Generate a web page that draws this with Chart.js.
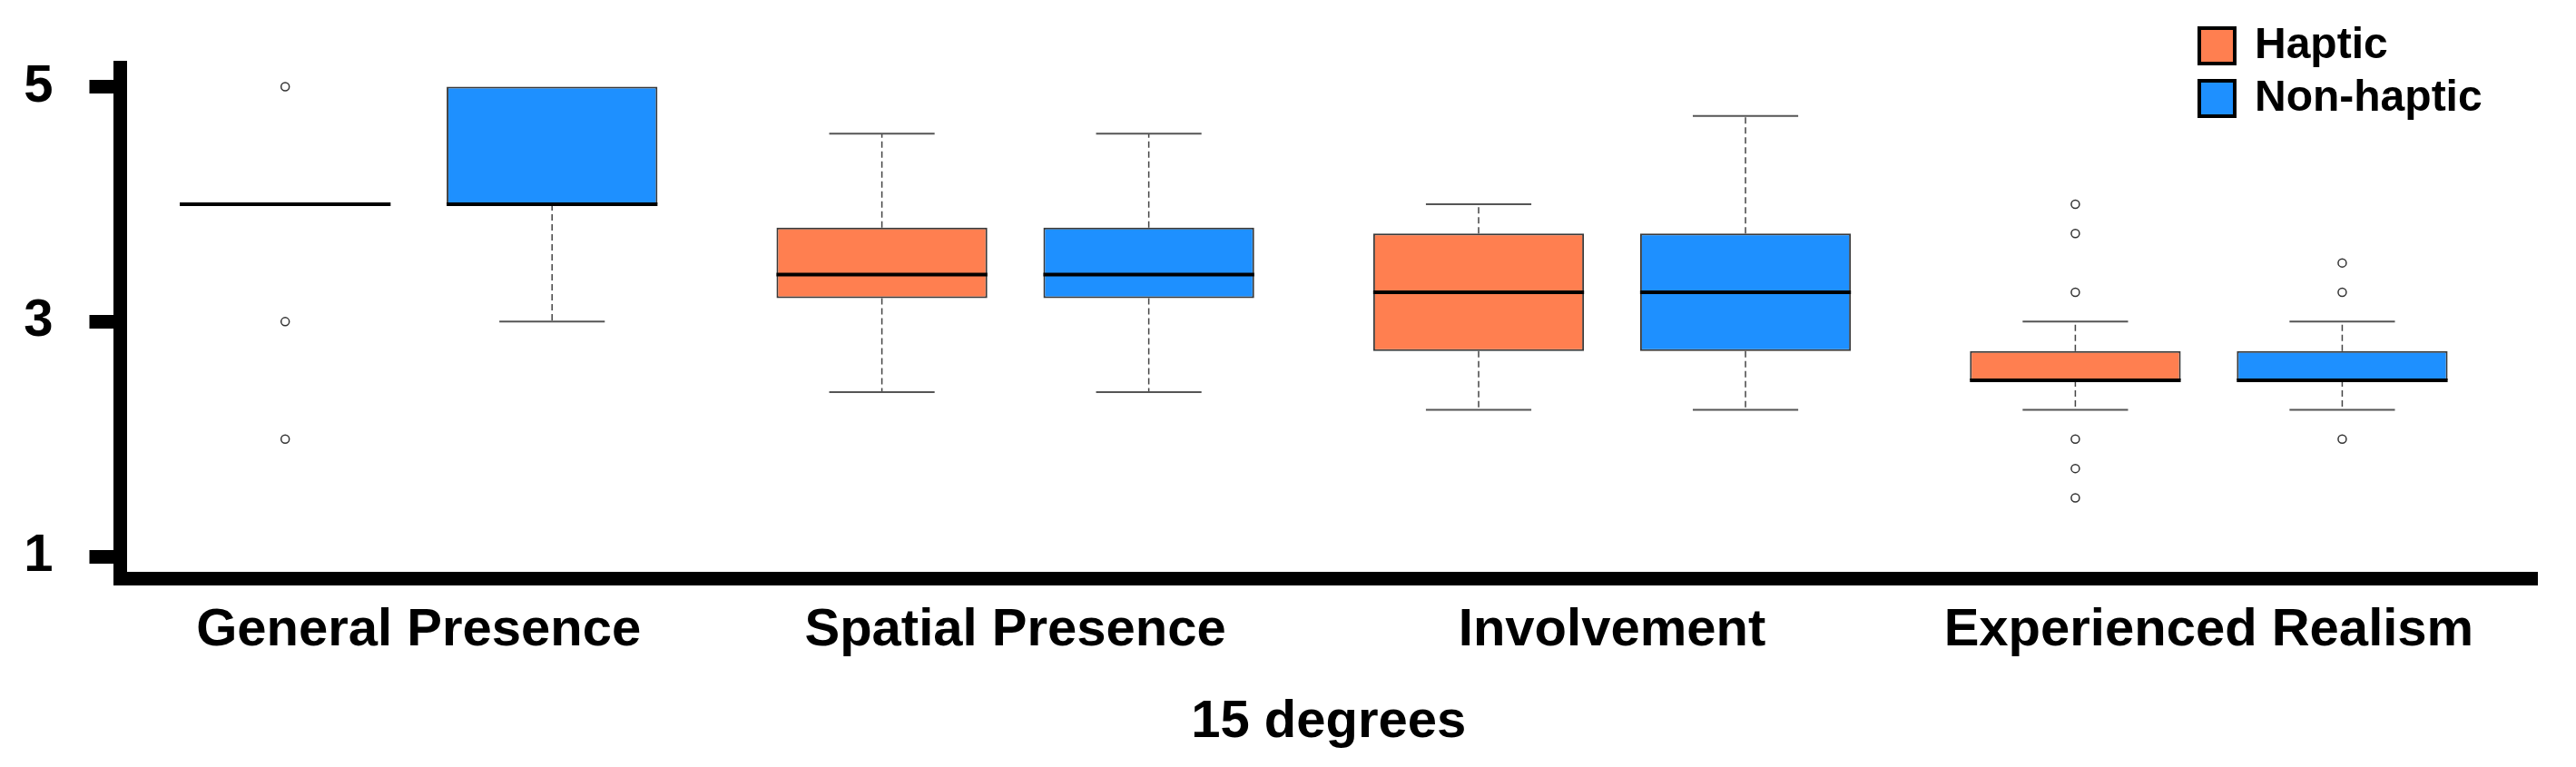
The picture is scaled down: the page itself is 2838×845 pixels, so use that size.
<!DOCTYPE html>
<html>
<head>
<meta charset="utf-8">
<script src="https://cdn.jsdelivr.net/npm/chart.js@4.4.1/dist/chart.umd.min.js"></script>
<style>
html,body{margin:0;padding:0;background:#ffffff;}
canvas{display:block;}
</style>
</head>
<body>
<canvas id="c" width="2838" height="845"></canvas>
<script>
// ---------- data ----------
const categories = ['General Presence', 'Spatial Presence', 'Involvement', 'Experienced Realism'];
const seriesNames = ['Haptic', 'Non-haptic'];
const xTitle = '15 degrees';
const yTicks = [1, 3, 5];

const hapticMin      = [4.0, 2.4, 2.25, 2.25];
const hapticQ1       = [4.0, 3.2, 2.75, 2.5];
const hapticMedian   = [4.0, 3.4, 3.25, 2.5];
const hapticQ3       = [4.0, 3.8, 3.75, 2.75];
const hapticMax      = [4.0, 4.6, 4.0, 3.0];
const hapticOutliers = [[5, 3, 2], [], [], [4.0, 3.75, 3.25, 2.0, 1.75, 1.5]];

const nonHapticMin      = [3.0, 2.4, 2.25, 2.25];
const nonHapticQ1       = [4.0, 3.2, 2.75, 2.5];
const nonHapticMedian   = [4.0, 3.4, 3.25, 2.5];
const nonHapticQ3       = [5.0, 3.8, 3.75, 2.75];
const nonHapticMax      = [5.0, 4.6, 4.75, 3.0];
const nonHapticOutliers = [[], [], [], [3.5, 3.25, 2.0]];

// ---------- styles ----------
const FONT = "'Liberation Sans', Arial, Helvetica, sans-serif";
const colors = ['#FF7F50', '#1E90FF'];

function makeStats(mn, q1, med, q3, mx, out) {
  return categories.map((c, i) => ({min: mn[i], q1: q1[i], median: med[i], q3: q3[i], max: mx[i], outliers: out[i]}));
}
const stats = [
  makeStats(hapticMin, hapticQ1, hapticMedian, hapticQ3, hapticMax, hapticOutliers),
  makeStats(nonHapticMin, nonHapticQ1, nonHapticMedian, nonHapticQ3, nonHapticMax, nonHapticOutliers)
];

const boxPlugin = {
  id: 'boxWhiskers',
  afterDatasetsDraw(chart) {
    const ctx = chart.ctx;
    const ys = chart.scales.y;
    chart.data.datasets.forEach((ds, d) => {
      const meta = chart.getDatasetMeta(d);
      meta.data.forEach((el, i) => {
        const s = stats[d][i];
        const x = el.x, w = el.width;
        ctx.save();
        const segs = [[s.q3, s.max], [s.q1, s.min]];
        segs.forEach(([from, to]) => {
          if (from === to) return;
          const y1 = ys.getPixelForValue(from), y2 = ys.getPixelForValue(to);
          ctx.beginPath();
          ctx.setLineDash([7, 4]);
          ctx.strokeStyle = '#444';
          ctx.lineWidth = 1.5;
          ctx.moveTo(x, y1); ctx.lineTo(x, y2);
          ctx.stroke();
          ctx.setLineDash([]);
          ctx.beginPath();
          ctx.strokeStyle = '#555';
          ctx.lineWidth = 2;
          ctx.moveTo(x - w / 4, y2); ctx.lineTo(x + w / 4, y2);
          ctx.stroke();
        });
        const ym = ys.getPixelForValue(s.median);
        ctx.beginPath();
        ctx.strokeStyle = '#000';
        ctx.lineWidth = 4;
        ctx.moveTo(x - w / 2, ym); ctx.lineTo(x + w / 2, ym);
        ctx.stroke();
        s.outliers.forEach(v => {
          const yo = ys.getPixelForValue(v);
          ctx.beginPath();
          ctx.arc(x, yo, 4.5, 0, Math.PI * 2);
          ctx.fillStyle = '#fff';
          ctx.fill();
          ctx.strokeStyle = '#333';
          ctx.lineWidth = 1.5;
          ctx.stroke();
        });
        ctx.restore();
      });
    });
  }
};

const legendPlugin = {
  id: 'boxLegend',
  afterDraw(chart, args, opts) {
    const ctx = chart.ctx;
    ctx.save();
    chart.data.datasets.forEach((ds, d) => {
      const top = opts.top + d * opts.rowGap;
      const size = opts.box;
      ctx.fillStyle = ds.backgroundColor;
      ctx.fillRect(opts.left, top, size, size);
      ctx.lineWidth = opts.border;
      ctx.strokeStyle = '#000';
      ctx.strokeRect(opts.left + opts.border / 2, top + opts.border / 2, size - opts.border, size - opts.border);
      ctx.fillStyle = '#000';
      ctx.font = 'bold ' + opts.fontSize + 'px ' + FONT;
      ctx.textBaseline = 'middle';
      ctx.textAlign = 'left';
      ctx.fillText(ds.label, opts.left + size + opts.textGap, top + size / 2);
    });
    ctx.restore();
  }
};

const xPositions = categories.map((c, i) => i);

new Chart(document.getElementById('c'), {
  type: 'bar',
  data: {
    labels: xPositions,
    datasets: [
      {
        label: seriesNames[0],
        data: xPositions.map(i => ({x: i, y: [hapticQ1[i], hapticQ3[i]]})),
        backgroundColor: colors[0],
        borderColor: '#3a3a3a',
        borderWidth: 2,
        borderSkipped: false
      },
      {
        label: seriesNames[1],
        data: xPositions.map(i => ({x: i, y: [nonHapticQ1[i], nonHapticQ3[i]]})),
        backgroundColor: colors[1],
        borderColor: '#3a3a3a',
        borderWidth: 2,
        borderSkipped: false
      }
    ]
  },
  options: {
    responsive: false,
    devicePixelRatio: 1,
    animation: false,
    categoryPercentage: 0.8945,
    barPercentage: 0.79,
    layout: {padding: {left: 0, right: 43, top: 68, bottom: 4}},
    plugins: {
      legend: {display: false},
      tooltip: {enabled: false},
      boxLegend: {left: 2421, top: 29, rowGap: 58, box: 43, border: 4, fontSize: 48, textGap: 20}
    },
    scales: {
      x: {
        type: 'linear',
        offset: false,
        min: -0.5,
        max: 3.55,
        afterBuildTicks(scale) { scale.ticks = xPositions.map(v => ({value: v})); },
        ticks: {
          autoSkip: false,
          maxRotation: 0,
          padding: 22,
          color: '#000',
          font: {family: FONT, size: 58, weight: 'bold'},
          callback: (v) => categories[v]
        },
        grid: {display: true, offset: false, drawOnChartArea: false, drawTicks: false},
        border: {display: true, width: 15, color: '#000'},
        title: {
          display: true,
          text: xTitle,
          color: '#000',
          font: {family: FONT, size: 58, weight: 'bold'},
          padding: {top: 10, bottom: 10}
        }
      },
      y: {
        min: 0.81,
        max: 5.16,
        afterBuildTicks(scale) { scale.ticks = yTicks.map(v => ({value: v})); },
        afterFit(scale) { scale.width = 132.5; },
        ticks: {
          padding: 40,
          color: '#000',
          font: {family: FONT, size: 58, weight: 'bold'}
        },
        grid: {display: true, drawOnChartArea: false, drawTicks: true, tickLength: 34, tickWidth: 15, tickColor: '#000'},
        border: {display: true, width: 15, color: '#000'}
      }
    }
  },
  plugins: [boxPlugin, legendPlugin]
});
</script>
</body>
</html>
